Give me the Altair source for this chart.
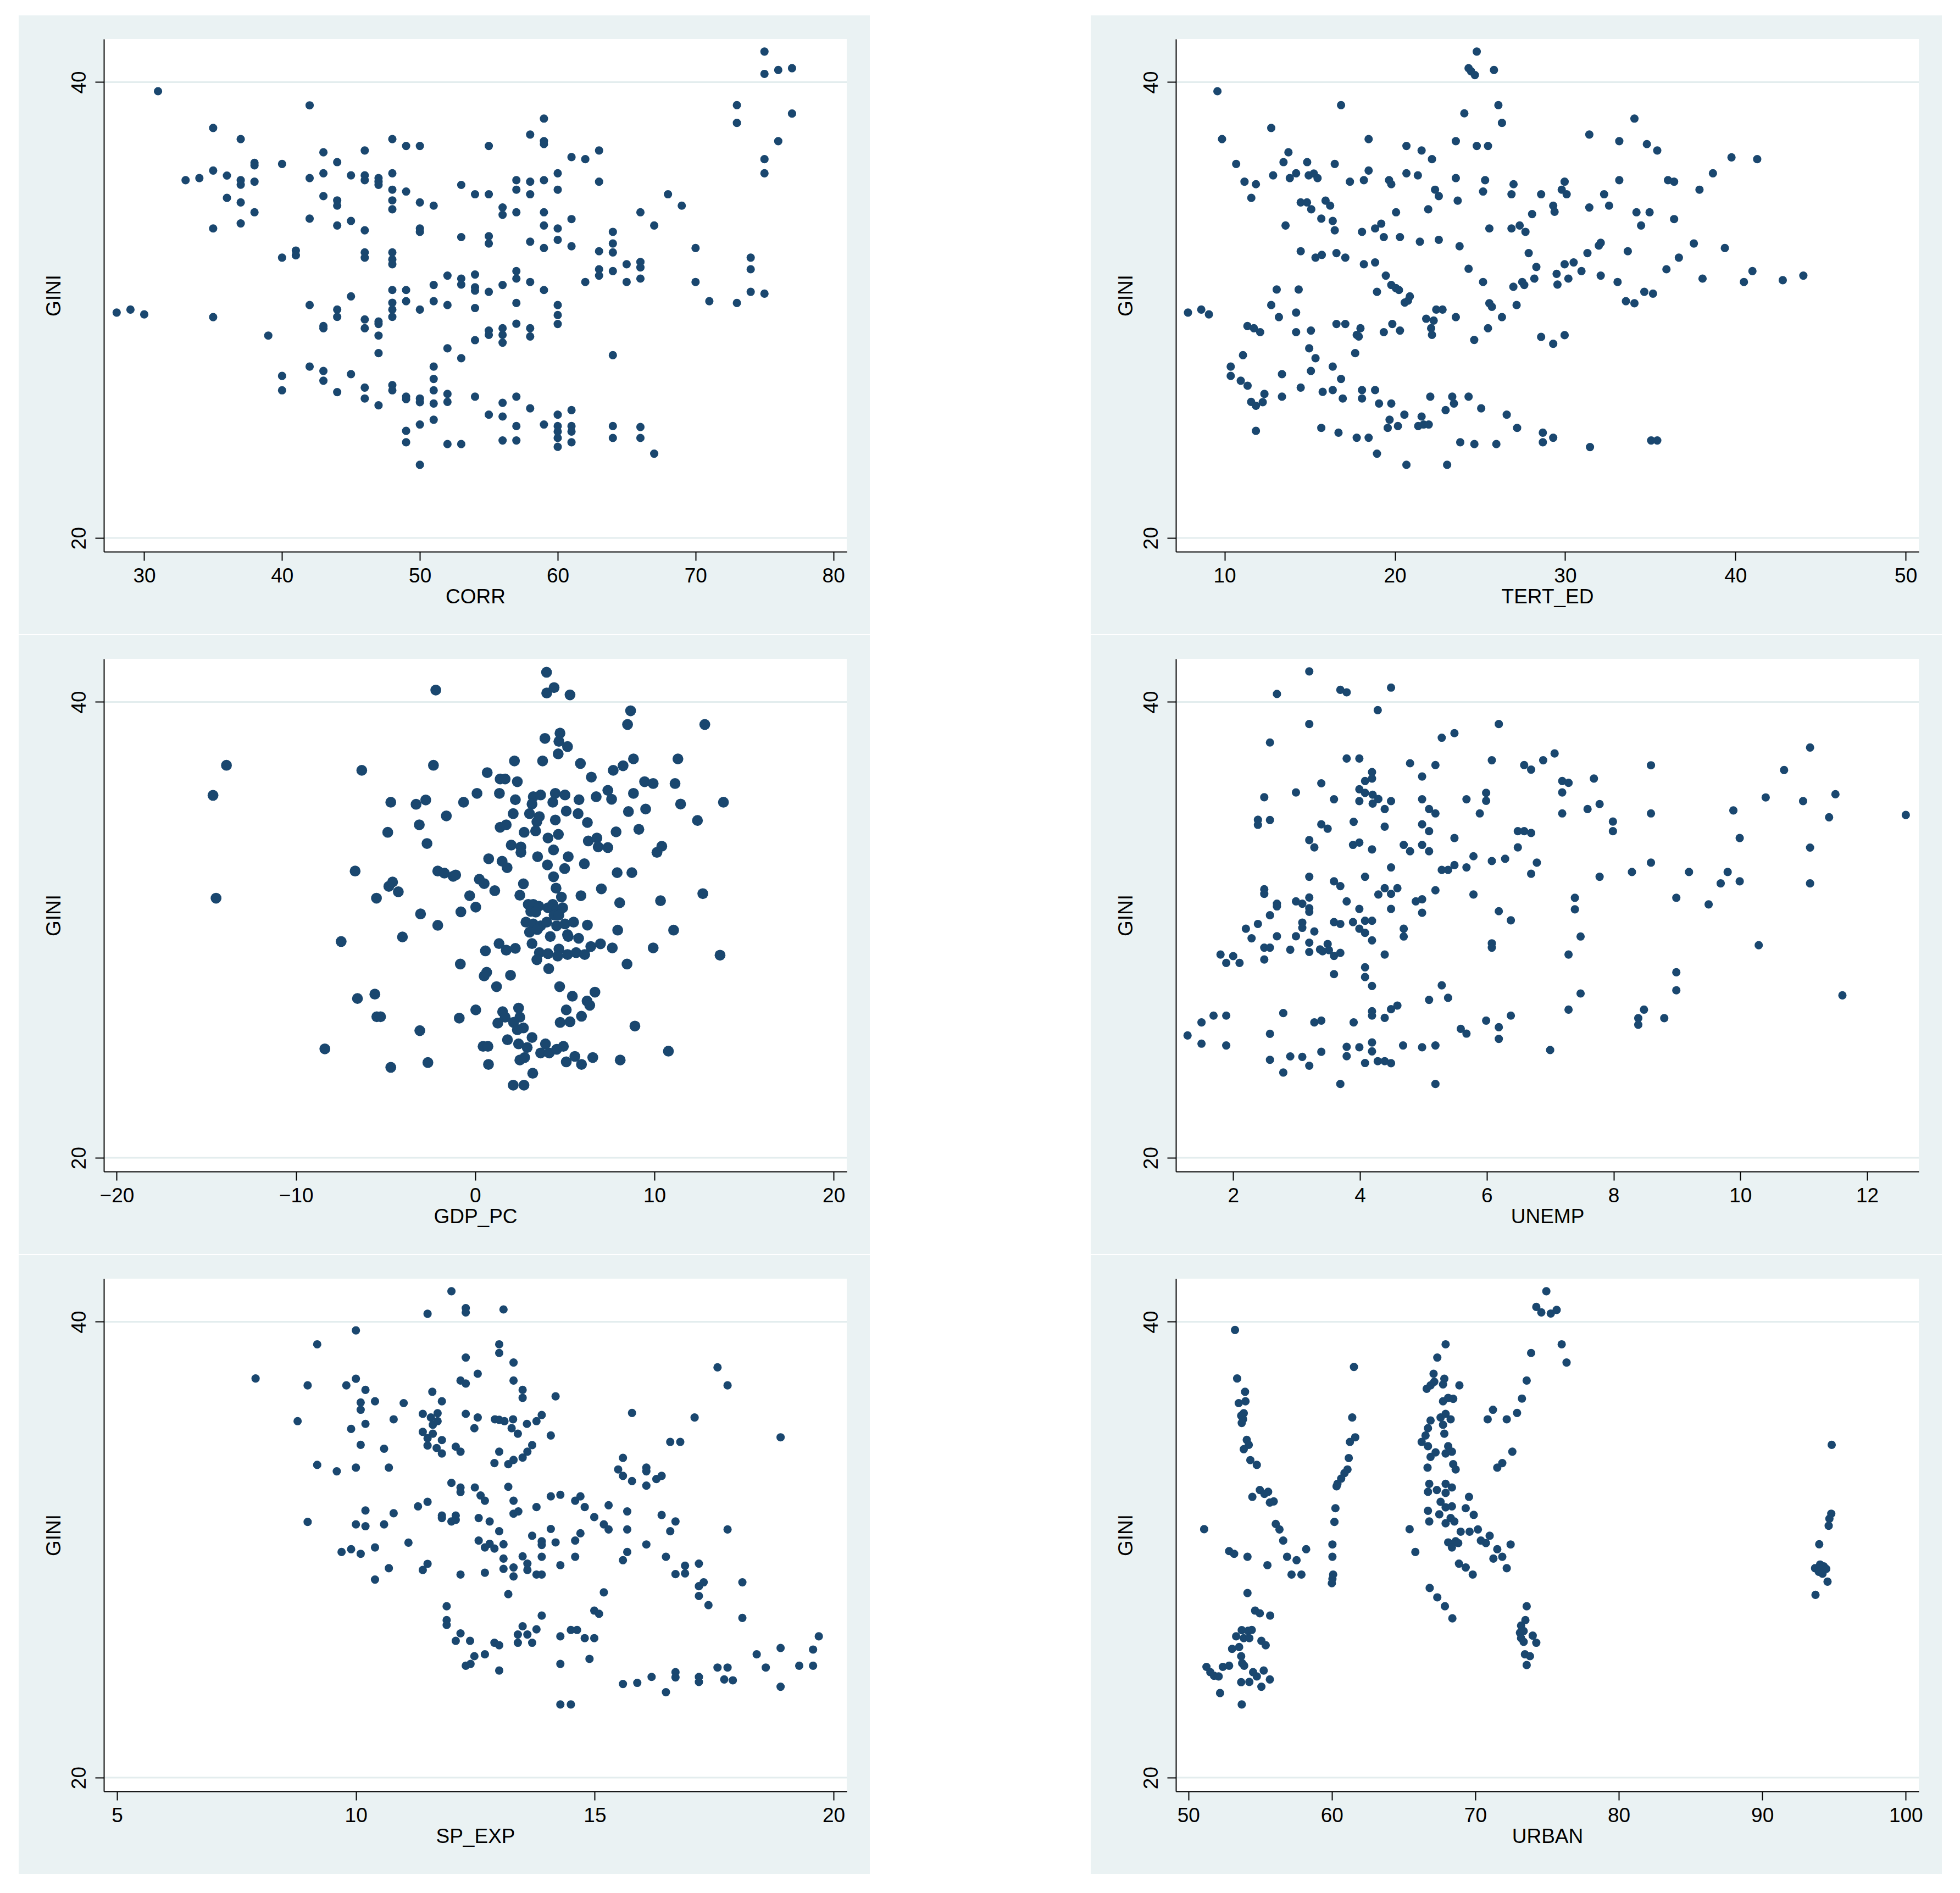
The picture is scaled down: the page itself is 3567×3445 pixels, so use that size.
import altair as alt
import pandas as pd

# ---------------- data ----------------
corr_points = [
    (31,39.60),(42,38.98),(35,37.99),(37,37.50),(43,36.92),(46,37.00),(44,36.49),(48,37.50),(49,37.20),(50,37.20),
    (38,36.46),(38,36.35),(40,36.41),(33,35.70),(34,35.79),(35,36.12),(36,35.90),(37,35.70),(37,35.50),(38,35.63),
    (36,34.92),(37,34.72),(38,34.29),(35,33.58),(37,33.80),(42,35.79),(43,36.00),(43,35.00),(44,34.81),(44,34.58),
    (45,35.91),(46,35.91),(46,35.70),(47,35.79),(47,35.63),(47,35.49),(48,36.00),(48,35.28),(48,34.81),(48,34.42),
    (49,35.20),(50,34.72),(51,34.58),(53,35.49),(54,35.08),(42,34.01),(44,33.71),(45,33.91),(46,33.50),(50,33.58),
    (50,33.43),(53,33.20),(40,32.30),(41,32.61),(41,32.40),(46,32.53),(46,32.30),(48,32.53),(48,32.22),(48,32.01),
    (52,31.51),(53,31.38),(53,31.12),(54,31.56),(54,31.00),(54,30.85),(51,31.10),(49,30.88),(49,30.39),(48,30.88),
    (45,30.60),(42,30.22),(51,30.39),(52,30.22),(54,30.09),(50,30.02),(48,30.32),(48,30.02),(48,29.70),(44,30.02),
    (44,29.70),(46,29.59),(46,29.20),(47,29.50),(47,29.39),(43,29.30),(43,29.20),(47,28.88),(39,28.88),(28,29.89),
    (29,30.02),(30,29.81),(35,29.69),(47,28.11),(52,28.32),(53,27.89),(54,28.68),(42,27.52),(43,27.33),(43,26.90),
    (40,27.11),(40,26.48),(45,27.19),(44,26.40),(46,26.60),(46,26.12),(47,25.82),(48,26.71),(48,26.48),(49,26.20),
    (49,26.09),(50,26.12),(50,25.96),(51,27.52),(51,26.98),(51,26.48),(51,25.90),(52,26.32),(52,25.97),(54,26.20),
    (51,25.19),(50,24.98),(49,24.70),(49,24.20),(52,24.12),(53,24.12),(50,23.21),
    (75,41.34),(75,40.36),(76,40.53),(77,40.61),(73,38.99),(73,38.21),(77,38.62),(76,37.41),(75,36.62),(75,36.00),
    (59,38.40),(58,37.70),(59,37.41),(59,37.28),(55,37.20),(61,36.71),(62,36.62),(63,37.00),(63,35.63),(60,36.00),
    (60,35.28),(59,35.70),(58,35.63),(58,35.08),(57,35.70),(57,35.28),(55,35.08),(56,34.50),(56,34.18),(57,34.29),
    (59,34.29),(59,33.71),(60,33.58),(60,33.08),(61,33.99),(61,32.80),(58,33.00),(59,32.72),(55,33.24),(55,32.92),
    (66,34.29),(68,35.08),(69,34.58),(67,33.71),(64,33.43),(64,32.92),(64,32.53),(63,32.58),(70,32.72),(74,32.30),
    (74,31.79),(65,32.01),(66,32.11),(66,31.87),(66,31.38),(63,31.79),(63,31.51),(64,31.71),(62,31.23),(65,31.23),
    (70,31.23),(57,31.71),(57,31.38),(56,31.10),(58,31.23),(59,30.88),(55,30.80),(74,30.80),(75,30.72),(71,30.39),
    (73,30.31),(57,30.31),(60,30.22),(60,29.78),(60,29.39),(57,29.40),(55,29.10),(55,28.91),(56,29.20),(56,28.91),
    (56,28.57),(58,29.20),(58,28.84),(64,28.02),(57,26.20),(56,25.93),(56,25.33),(55,25.41),(58,25.69),(61,25.61),
    (59,24.98),(60,25.41),(60,24.91),(60,24.67),(60,24.39),(60,24.00),(61,24.91),(61,24.67),(61,24.20),(57,24.91),
    (57,24.28),(56,24.28),(64,24.91),(64,24.39),(66,24.87),(66,24.39),(67,23.70),
]

tert_points = [
    (24.81,41.34),(24.33,40.61),(24.48,40.47),(24.70,40.31),(25.82,40.53),(9.58,39.60),(16.84,38.99),(26.08,38.99),
    (26.29,38.21),(24.08,38.63),(12.74,37.99),(9.85,37.50),(18.46,37.50),(23.58,37.41),(24.81,37.20),(25.47,37.20),
    (20.68,37.20),(21.57,37.00),(22.18,36.62),(10.68,36.41),(13.75,36.92),(13.46,36.49),(14.85,36.49),(16.47,36.41),
    (18.46,36.12),(20.68,36.00),(21.35,35.91),(12.85,35.91),(14.20,36.00),(13.83,35.79),(14.94,35.91),(15.24,35.99),
    (15.46,35.79),(11.17,35.63),(11.84,35.52),(11.57,34.92),(17.36,35.63),(18.18,35.70),(19.66,35.70),(19.79,35.52),
    (23.58,35.79),(25.30,35.70),(25.18,35.20),(22.36,35.28),(22.58,35.00),(23.69,34.80),(26.97,35.52),(26.85,35.08),
    (28.59,35.08),(14.47,34.72),(14.84,34.72),(15.09,34.42),(15.93,34.80),(16.20,34.58),(15.68,34.01),(16.35,33.91),
    (16.47,33.50),(13.58,33.71),(20.07,34.29),(21.96,34.42),(28.06,34.21),(29.30,34.58),(29.38,34.31),(18.07,33.43),
    (18.84,33.58),(19.20,33.79),(19.35,33.20),(20.30,33.20),(21.47,33.00),(22.58,33.08),(23.80,32.80),(25.55,33.58),
    (26.85,33.58),(27.33,33.71),(27.67,33.43),(14.47,32.58),(15.34,32.30),(15.71,32.42),(16.57,32.50),(17.09,32.30),
    (18.18,32.01),(18.84,32.09),(27.86,32.50),(28.31,31.89),(24.33,31.81),(28.19,31.38),(29.50,31.59),(29.55,31.12),
    (25.18,31.23),(26.96,31.02),(27.48,31.23),(27.60,31.10),(19.47,31.51),(19.79,31.10),(20.06,30.96),(20.24,30.88),
    (18.95,30.80),(20.88,30.60),(20.58,30.33),(20.77,30.41),(25.55,30.30),(25.70,30.14),(27.15,30.22),(26.29,29.69),
    (23.58,29.69),(25.47,29.20),(24.66,28.69),(28.59,28.82),(29.30,28.52),(13.06,30.90),(14.35,30.90),(12.74,30.22),
    (14.20,29.89),(13.19,29.69),(7.85,29.89),(8.63,30.02),(9.08,29.81),(11.34,29.30),(11.72,29.20),(12.09,29.03),
    (14.20,29.03),(15.07,29.10),(16.57,29.39),(17.09,29.39),(17.98,29.20),(17.76,28.91),(17.88,28.84),(19.35,29.03),
    (19.85,29.39),(20.30,29.10),(21.84,29.62),(22.28,29.54),(22.13,29.20),(22.18,28.91),(22.43,30.02),(22.80,30.02),
    (14.97,28.32),(15.34,27.89),(17.67,28.11),(11.08,28.02),(10.36,27.52),(10.36,27.11),(10.95,26.90),(11.35,26.68),
    (13.37,27.19),(15.07,27.33),(16.35,27.52),(16.84,26.98),(14.47,26.60),(12.34,26.32),(12.24,25.96),(11.56,25.97),
    (11.84,25.80),(13.37,26.20),(15.76,26.41),(16.35,26.49),(16.94,26.12),(18.07,26.49),(18.07,26.12),(18.84,26.49),
    (19.07,25.90),(19.79,25.90),(22.08,26.20),(23.37,26.20),(23.47,25.90),(24.33,26.20),(25.07,25.69),(22.98,25.61),
    (20.56,25.41),(21.57,25.33),(21.37,24.91),(21.69,24.98),(21.99,24.98),(19.69,25.19),(19.58,24.83),(20.18,24.91),
    (11.84,24.70),(15.68,24.83),(16.69,24.62),(17.76,24.40),(18.46,24.40),(18.95,23.70),(20.68,23.21),(23.07,23.21),
    (23.84,24.20),(24.67,24.12),(25.96,24.12),(26.57,25.41),(27.18,24.83),(28.69,24.62),(28.69,24.20),(29.30,24.40),
    (31.42,37.70),(34.07,38.40),(33.18,37.41),(34.80,37.28),(35.41,37.00),(39.77,36.70),(41.28,36.62),(38.68,36.00),
    (29.97,35.63),(29.80,35.28),(30.09,35.08),(33.18,35.70),(36.04,35.70),(36.40,35.63),(37.89,35.28),(32.29,35.08),
    (32.58,34.58),(31.42,34.50),(34.19,34.29),(34.96,34.29),(36.40,33.99),(34.46,33.71),(37.56,32.92),(39.38,32.72),
    (31.98,32.83),(32.09,32.95),(31.31,32.50),(33.68,32.58),(36.68,32.30),(29.97,32.01),(30.50,32.09),(30.96,31.71),
    (30.19,31.38),(32.09,31.51),(35.95,31.79),(38.07,31.38),(33.08,31.23),(40.50,31.23),(41.00,31.71),(42.78,31.31),
    (43.99,31.51),(34.65,30.80),(35.16,30.72),(33.57,30.39),(34.07,30.30),(29.97,28.90),(31.46,23.99),(35.05,24.28),
    (35.41,24.28),
]

gdp_points = [
    (-2.20,40.52),(-13.88,37.22),(-14.63,35.90),(-14.46,31.39),(-6.33,37.00),(-2.33,37.22),(-4.71,35.60),(-3.30,35.51),
    (-2.76,35.70),(-0.65,35.60),(-1.61,35.00),(-3.12,34.61),(-4.88,34.28),(-2.69,33.79),(-6.70,32.58),(-2.09,32.58),
    (-1.72,32.49),(-1.23,32.35),(-1.09,32.41),(-4.82,31.91),(-4.61,32.10),(-4.29,31.67),(-5.51,31.39),(-0.31,31.50),
    (-0.80,30.79),(-3.05,30.70),(-2.09,30.20),(-4.06,29.69),(-7.48,29.49),(-0.83,28.50),(-5.60,27.18),(-6.57,26.99),
    (-5.49,26.19),(-5.28,26.19),(-0.89,26.13),(-3.09,25.58),(-8.39,24.78),(-4.71,23.97),(-2.64,24.18),
    (3.98,41.30),(3.99,40.39),(4.40,40.63),(5.29,40.31),(8.67,39.61),(8.50,39.01),(12.81,39.01),(3.89,38.40),
    (4.73,38.63),(4.67,38.27),(5.15,38.04),(4.63,37.72),(2.19,37.41),(3.76,37.41),(5.87,37.30),(8.83,37.50),
    (8.25,37.20),(7.70,37.00),(11.31,37.50),(0.67,36.90),(1.39,36.62),(1.67,36.62),(2.35,36.50),(6.48,36.70),
    (0.10,35.99),(1.35,35.99),(2.24,35.71),(3.24,35.84),(3.65,35.92),(3.17,35.52),(3.03,35.10),(3.58,34.97),
    (4.47,35.99),(5.01,35.92),(4.33,35.60),(5.08,35.21),(5.79,35.71),(6.75,35.84),(7.40,36.12),(7.61,35.73),
    (9.45,36.50),(9.93,36.42),(11.15,36.42),(8.83,35.99),(11.46,35.52),(13.85,35.60),(8.55,35.19),(9.51,35.30),
    (5.74,35.10),(2.12,35.10),(1.39,34.50),(1.73,34.61),(2.73,34.28),(3.44,34.74),(3.37,34.34),(4.06,34.03),
    (4.47,34.82),(4.64,34.19),(6.26,34.71),(7.86,34.30),(9.13,34.41),(12.40,34.80),(6.31,33.90),(6.79,34.03),
    (6.86,33.64),(7.40,33.61),(2.01,33.72),(2.55,33.64),(2.55,33.40),(4.37,33.51),(10.41,33.67),(10.14,33.40),
    (0.75,33.12),(1.50,33.01),(1.78,32.73),(3.48,33.21),(4.03,32.85),(5.19,33.21),(4.99,32.69),(6.09,32.90),
    (7.92,32.51),(8.74,32.51),(0.23,32.22),(0.50,32.03),(1.09,31.72),(2.69,32.02),(2.49,31.52),(4.37,32.33),
    (4.51,31.83),(4.81,31.44),(5.90,31.50),(7.04,31.80),(8.06,31.19),(10.34,31.28),(12.70,31.59),(0.03,31.00),
    (2.96,31.12),(3.24,31.12),(3.55,31.04),(3.10,30.81),(3.38,30.78),(4.06,30.97),(4.33,31.12),(4.54,30.89),
    (4.88,30.97),(4.40,30.65),(4.67,30.65),(2.83,30.34),(3.24,30.26),(3.65,30.18),(3.99,30.34),(3.03,29.90),
    (3.47,30.02),(4.54,30.18),(5.01,30.26),(5.49,30.34),(5.15,29.79),(4.19,29.71),(5.77,29.63),(5.19,29.71),
    (6.26,30.21),(7.95,29.99),(11.07,29.99),(3.17,29.40),(1.33,29.40),(0.57,29.08),(1.73,29.11),(2.24,29.19),
    (3.58,29.00),(3.44,28.69),(4.06,28.96),(4.67,29.16),(4.60,28.85),(5.15,28.92),(5.63,29.00),(6.11,28.92),
    (6.45,29.27),(6.99,29.39),(7.65,29.21),(9.93,29.21),(13.66,28.89),(4.10,28.30),(8.47,28.50),(0.50,27.98),
    (0.64,28.14),(1.97,28.01),(1.19,27.51),(4.71,27.51),(5.42,27.09),(6.68,27.27),(6.24,26.88),(6.39,26.69),
    (5.08,26.49),(5.93,26.21),(0.03,26.49),(1.53,26.41),(1.26,25.91),(1.67,26.17),(2.42,26.57),(2.49,26.17),
    (2.14,25.94),(2.69,25.70),(2.35,25.62),(4.74,25.94),(5.29,25.97),(8.91,25.78),(0.44,24.89),(0.71,24.89),
    (1.80,25.18),(2.42,25.00),(2.90,24.84),(3.17,25.28),(3.92,25.00),(3.65,24.60),(4.13,24.60),(4.54,24.76),
    (4.92,24.89),(2.49,24.29),(2.76,24.40),(0.74,24.10),(5.08,24.21),(5.56,24.45),(5.93,24.10),(6.56,24.40),
    (8.09,24.29),(10.78,24.68),(3.21,23.71),(2.12,23.19),(2.72,23.19),
]

unemp_points = [
    (3.20,41.34),(2.69,40.35),(3.69,40.53),(3.79,40.42),(4.49,40.63),(4.28,39.64),(3.20,39.03),(2.58,38.22),
    (6.19,39.03),(5.29,38.43),(5.49,38.63),(3.79,37.52),(3.99,37.52),(4.79,37.31),(5.19,37.23),(6.08,37.44),
    (6.89,37.44),(7.07,37.74),(6.59,37.23),(6.70,37.03),(4.19,36.92),(4.19,36.64),(4.08,36.53),(4.98,36.73),
    (3.39,36.43),(2.99,36.03),(2.49,35.82),(3.99,36.17),(4.08,36.01),(4.20,35.93),(4.29,35.74),(3.99,35.65),
    (4.20,35.54),(3.59,35.73),(4.49,35.65),(4.39,35.30),(4.98,35.73),(5.09,35.30),(5.19,35.11),(5.68,35.73),
    (5.99,36.01),(5.99,35.66),(5.89,35.11),(2.39,34.83),(2.39,34.61),(2.58,34.82),(3.90,34.74),(3.39,34.63),
    (3.49,34.44),(4.39,34.53),(4.98,34.63),(5.09,34.33),(5.49,34.03),(6.49,34.33),(6.59,34.33),(6.70,34.25),
    (3.20,33.94),(3.28,33.62),(3.89,33.73),(3.99,33.83),(4.19,33.53),(4.69,33.73),(4.79,33.45),(4.98,33.73),
    (5.09,33.45),(6.49,33.62),(5.79,33.23),(6.29,33.12),(6.08,33.02),(6.79,32.95),(6.70,32.46),(5.29,32.63),
    (5.39,32.63),(5.49,32.84),(5.68,32.74),(4.49,32.74),(3.20,32.33),(4.08,32.33),(3.59,32.13),(3.69,31.92),
    (2.49,31.78),(2.49,31.58),(4.39,31.83),(4.29,31.55),(4.49,31.58),(4.59,31.83),(5.19,31.74),(5.79,31.55),
    (2.69,31.15),(2.69,31.03),(2.99,31.25),(3.09,31.15),(3.20,31.42),(3.20,30.95),(3.20,30.79),(3.79,31.25),
    (4.88,31.25),(4.98,31.34),(4.98,30.75),(3.99,30.92),(4.49,30.92),(2.58,30.64),(2.20,30.05),(2.39,30.26),
    (2.29,29.63),(2.69,29.72),(2.99,29.72),(3.09,30.32),(3.09,30.09),(3.28,29.93),(3.59,30.34),(3.69,30.26),
    (3.89,30.34),(3.99,30.05),(4.08,30.40),(4.19,30.40),(4.08,29.87),(4.19,29.54),(4.69,30.05),(4.69,29.71),
    (6.19,30.82),(6.38,30.42),(6.08,29.41),(6.08,29.22),(1.80,28.92),(2.00,28.85),(1.89,28.55),(2.10,28.55),
    (2.49,29.22),(2.58,29.22),(2.49,28.70),(2.90,29.13),(3.20,29.44),(3.20,29.03),(3.37,29.14),(3.49,29.38),
    (3.41,29.06),(3.51,29.11),(3.59,28.86),(3.69,28.99),(4.39,28.92),(3.59,28.06),(4.08,28.36),(4.08,27.93),
    (4.19,27.54),(5.29,27.57),(5.39,27.02),(5.09,26.93),(4.59,26.68),(4.49,26.52),(4.19,26.43),(4.19,26.24),
    (4.39,26.14),(2.79,26.35),(1.69,26.24),(1.89,26.24),(1.50,25.94),(1.28,25.37),(1.50,25.01),(1.89,24.93),
    (2.58,25.44),(3.28,25.94),(3.39,26.02),(3.90,25.94),(5.99,26.02),(6.38,26.24),(6.19,25.73),(6.19,25.22),
    (5.59,25.66),(5.68,25.45),(4.68,24.93),(4.98,24.85),(5.19,24.93),(4.19,25.06),(4.19,24.67),(3.79,24.87),
    (3.79,24.46),(3.99,24.85),(3.39,24.65),(2.90,24.45),(3.09,24.43),(3.20,24.04),(2.58,24.30),(2.79,23.74),
    (4.08,24.16),(4.28,24.24),(4.39,24.24),(4.49,24.15),(3.69,23.24),(5.19,23.24),(7.00,24.73),
    (8.59,37.22),(11.10,38.00),(10.69,37.01),(7.19,36.53),(7.29,36.45),(7.19,36.03),(7.69,36.64),(7.19,35.11),
    (7.59,35.30),(7.78,35.52),(8.59,35.11),(7.99,34.75),(7.99,34.33),(10.40,35.81),(10.99,35.65),(11.50,35.95),
    (11.40,34.94),(12.61,35.04),(9.89,35.24),(9.99,34.03),(11.10,33.61),(8.59,32.95),(8.29,32.54),(7.78,32.33),
    (9.19,32.54),(9.80,32.54),(9.69,32.04),(9.99,32.13),(11.10,32.04),(7.39,31.41),(7.39,30.90),(8.99,31.41),
    (9.50,31.12),(7.48,29.71),(7.29,28.92),(10.29,29.33),(8.99,28.14),(8.99,27.35),(7.48,27.21),(11.61,27.13),
    (7.29,26.50),(8.48,26.50),(8.39,26.13),(8.39,25.84),(8.80,26.13),
]

spexp_points = [
    (12.00,41.34),(11.50,40.35),(12.30,40.60),(12.30,40.41),(10.00,39.62),(9.19,39.01),(12.30,38.43),(7.90,37.51),
    (8.99,37.21),(9.80,37.21),(10.00,37.50),(10.20,37.01),(10.10,36.46),(10.10,36.14),(10.40,36.51),(11.00,36.43),
    (11.60,36.93),(11.80,36.51),(12.19,37.42),(12.30,37.29),(12.55,37.72),(8.78,35.64),(9.90,35.30),(10.20,35.52),
    (10.79,35.72),(11.40,35.96),(11.57,35.80),(11.71,35.99),(11.61,35.48),(11.71,35.64),(12.30,35.96),(12.55,35.80),
    (12.48,35.33),(11.40,35.17),(11.50,34.89),(11.61,35.09),(11.50,34.57),(11.80,34.81),(11.69,34.46),(11.80,34.22),
    (12.09,34.52),(12.19,34.30),(10.10,34.60),(10.59,34.43),(9.19,33.72),(9.60,33.44),(10.00,33.60),(10.69,33.60),
    (12.00,32.93),(12.19,32.73),(12.19,32.53),(12.49,32.73),(11.50,32.10),(11.30,31.90),(10.20,31.72),(10.79,31.60),
    (11.80,31.50),(11.80,31.39),(12.00,31.24),(12.09,31.50),(12.09,31.31),(12.57,31.39),(8.99,31.22),(10.00,31.11),
    (10.20,31.03),(10.59,31.11),(11.10,30.31),(12.57,30.40),(9.70,29.90),(9.90,30.02),(10.10,29.82),(10.40,30.10),
    (10.69,29.19),(11.40,29.11),(11.50,29.38),(10.40,28.69),(12.19,28.91),(11.90,27.52),(11.90,26.91),(11.90,26.70),
    (12.19,26.33),(12.09,26.00),(12.39,26.00),(12.48,25.33),(12.30,24.91),(12.40,24.99),
    (13.09,40.54),(13.00,39.01),(13.00,38.63),(13.30,38.21),(13.30,37.42),(13.49,37.01),(13.49,36.66),(14.18,36.73),
    (17.57,38.00),(17.78,37.21),(15.78,36.00),(17.09,35.80),(18.89,34.93),(12.91,35.72),(13.00,35.70),(13.11,35.64),
    (13.29,35.72),(13.26,35.33),(13.39,35.09),(13.58,35.52),(13.78,35.64),(13.89,35.91),(14.08,35.01),(16.58,34.73),
    (16.79,34.73),(13.00,34.30),(12.90,33.80),(13.19,33.75),(13.30,33.94),(13.49,34.04),(13.59,34.30),(13.69,34.59),
    (15.59,34.03),(15.49,33.52),(15.59,33.24),(15.78,33.01),(16.08,33.60),(16.08,33.44),(16.08,32.81),(16.29,33.10),
    (16.40,33.24),(13.19,32.76),(12.61,32.38),(12.70,32.15),(13.30,32.15),(13.30,31.58),(13.40,31.68),(13.78,31.87),
    (14.08,32.34),(14.28,32.41),(14.59,32.15),(14.70,32.34),(14.79,31.87),(15.29,31.95),(15.68,31.68),(12.80,31.24),
    (14.99,31.43),(15.19,31.11),(15.29,30.89),(15.68,30.89),(16.40,31.52),(16.69,31.24),(16.58,30.81),(17.78,30.89),
    (13.00,30.81),(12.70,30.10),(12.80,30.26),(12.90,30.05),(13.09,30.24),(13.69,30.61),(13.89,30.37),(13.89,30.21),
    (14.08,30.91),(14.18,30.32),(14.59,30.40),(14.70,30.72),(16.08,30.23),(13.09,29.61),(13.09,29.16),(13.30,29.22),
    (13.30,28.83),(13.49,29.71),(13.59,29.39),(13.59,29.11),(13.78,28.91),(13.89,28.91),(13.89,29.69),(14.28,29.32),
    (14.59,29.69),(12.70,28.99),(15.59,29.54),(15.68,29.90),(16.49,29.69),(16.69,28.93),(16.89,29.30),(16.89,28.96),
    (17.18,29.39),(17.18,28.40),(17.28,28.57),(17.18,27.97),(17.38,27.57),(18.09,28.57),(18.09,27.01),(13.19,28.05),
    (15.19,28.13),(14.99,27.33),(15.09,27.19),(13.89,27.11),(13.49,26.64),(13.39,26.28),(13.39,25.92),(13.59,26.28),
    (13.69,25.92),(13.78,26.51),(12.90,25.92),(13.00,25.81),(12.70,25.41),(13.00,24.70),(14.28,26.20),(14.50,26.48),
    (14.63,26.48),(14.79,26.12),(14.99,26.12),(14.89,25.21),(14.28,24.99),(14.28,23.21),(14.50,23.21),(15.59,24.11),
    (15.89,24.16),(16.19,24.42),(16.69,24.63),(16.69,24.40),(16.49,23.75),(17.18,24.42),(17.18,24.20),(17.57,24.83),
    (17.78,24.83),(17.71,24.31),(17.89,24.27),(18.39,25.41),(18.58,24.83),(18.89,25.69),(18.89,23.99),(19.28,24.91),
    (19.57,25.62),(19.57,24.91),(19.69,26.20),
]

urban_points = [
    (74.95,41.34),(74.25,40.65),(74.60,40.41),(75.26,40.36),(73.89,38.63),(73.58,37.42),(73.25,36.63),(72.91,36.00),
    (71.23,36.14),(70.86,35.72),(72.19,35.72),(72.58,34.30),(71.53,33.60),(71.88,33.80),(53.25,39.64),(53.40,37.51),
    (53.95,36.93),(53.51,36.43),(53.98,36.51),(53.86,35.99),(53.81,35.72),(53.72,35.56),(53.68,35.88),(54.07,34.82),
    (54.21,34.60),(53.86,34.41),(54.32,33.93),(54.77,33.72),(54.46,32.32),(54.98,32.62),(55.30,32.45),(55.56,32.54),
    (55.68,32.07),(55.95,32.12),(56.09,31.13),(56.35,30.89),(56.61,30.40),(56.88,29.69),(57.54,29.54),(57.19,28.91),
    (57.88,28.91),(58.21,30.02),(51.10,30.90),(52.84,29.94),(53.19,29.82),(54.12,29.69),(55.51,29.32),(54.12,28.10),
    (54.65,27.33),(54.98,27.21),(55.70,27.11),(53.33,26.20),(53.72,26.47),(54.16,26.44),(54.42,26.48),(53.86,26.12),
    (54.25,26.12),(55.09,26.00),(55.39,25.81),(53.05,25.65),(53.54,25.73),(53.68,25.33),(53.75,25.02),(53.89,24.91),
    (51.26,24.86),(51.53,24.63),(51.79,24.47),(52.11,24.44),(52.40,24.86),(52.84,24.91),(53.68,24.19),(54.25,24.20),
    (54.51,24.63),(54.77,24.44),(55.25,24.70),(55.09,23.99),(55.68,24.31),(52.21,23.71),(53.72,23.21),(61.54,38.02),
    (61.42,35.80),(61.63,34.93),(61.26,34.73),(61.18,34.02),(61.09,33.52),(60.88,33.36),(60.65,33.12),(60.39,32.89),
    (60.33,32.78),(60.25,31.82),(60.18,31.22),(60.04,30.23),(60.04,29.69),(60.09,28.91),(60.04,28.72),(60.00,28.53),
    (67.93,39.01),(67.35,38.43),(67.09,37.72),(66.61,37.06),(66.88,37.21),(67.14,37.37),(67.84,37.50),(67.75,37.25),
    (68.89,37.21),(67.75,36.51),(68.11,36.66),(68.46,36.62),(66.88,35.67),(66.70,35.33),(66.53,35.01),(67.58,35.80),
    (67.93,35.96),(68.28,35.72),(67.75,35.48),(67.84,35.09),(66.26,34.73),(66.70,34.54),(66.88,34.07),(67.23,34.27),
    (68.11,34.54),(67.93,34.22),(68.37,34.30),(68.46,33.75),(68.63,33.52),(66.67,33.60),(66.79,32.89),(66.70,32.54),
    (67.32,32.62),(67.93,32.89),(68.37,32.73),(67.93,32.49),(69.56,32.32),(69.33,31.82),(69.89,31.53),(67.58,32.10),
    (67.93,31.86),(68.37,31.90),(67.49,31.55),(66.70,31.71),(66.79,31.24),(67.93,31.16),(68.28,31.39),(68.54,31.24),
    (65.42,30.90),(65.82,29.90),(68.98,30.79),(69.60,30.79),(70.18,30.89),(68.11,30.32),(68.63,30.37),(68.81,30.29),
    (68.37,30.10),(70.39,30.40),(70.74,30.29),(71.00,30.61),(71.53,30.02),(71.26,29.61),(71.88,29.69),(72.46,30.23),
    (72.19,29.19),(68.86,29.39),(69.33,29.22),(69.82,28.91),(66.82,28.32),(67.35,27.91),(67.88,27.52),(68.40,26.99),
    (73.58,27.52),(73.49,26.91),(73.19,26.67),(73.11,26.36),(73.19,26.12),(73.37,25.96),(73.37,26.43),(74.00,26.23),
    (74.25,25.92),(73.46,25.41),(73.81,25.33),(73.58,24.94),
    (75.67,40.52),(76.02,39.01),(76.36,38.21),(94.84,34.60),(94.81,31.58),(94.68,31.36),(94.63,31.05),(93.97,30.24),
    (93.68,29.19),(94.03,29.35),(94.29,29.27),(94.46,29.16),(93.94,29.03),(94.20,28.95),(94.55,28.60),(93.71,28.02),
]

gini_ticks = [20, 40]
corr_ticks = [30, 40, 50, 60, 70, 80]
tert_ticks = [10, 20, 30, 40, 50]
gdp_ticks = [-20, -10, 0, 10, 20]
unemp_ticks = [2, 4, 6, 8, 10, 12]
spexp_ticks = [5, 10, 15, 20]
urban_ticks = [50, 60, 70, 80, 90, 100]

# ---------------- styling ----------------
FONT = "Liberation Sans"
NAVY = "#1a476f"
BG = "#eaf2f3"
GRID = "#e3edee"
W, H = 1352, 933
PAD_L, PAD_R, PAD_T, PAD_B = 155, 42, 43, 150
Y_DOM = [19.4, 41.89]
FS = 37

COMMON = dict(domainColor="black", domainWidth=2, tickColor="black", tickWidth=2,
              tickSize=16, labelFont=FONT, labelFontSize=FS, labelColor="black",
              titleFont=FONT, titleFontSize=FS, titleFontWeight="normal",
              titleColor="black", grid=False, zindex=1, labelOverlap=False)


def y_axis():
    return alt.Axis(values=gini_ticks, title="GINI", labelAngle=270,
                    labelAlign="center", labelBaseline="bottom",
                    labelPadding=10, titlePadding=8, **COMMON)


def panel(points, xname, xdom, xticks, dot):
    df = pd.DataFrame(points, columns=[xname, "GINI"])
    one = pd.DataFrame({"k": [0]})
    xs = alt.Scale(domain=xdom, nice=False, zero=False)
    ys = alt.Scale(domain=Y_DOM, nice=False, zero=False)
    bg = alt.Chart(one).mark_rect(fill=BG, clip=False).encode(
        x=alt.value(-PAD_L), x2=alt.value(W + PAD_R),
        y=alt.value(-PAD_T), y2=alt.value(H + PAD_B))
    white = alt.Chart(one).mark_rect(fill="white").encode(
        x=alt.value(0), x2=alt.value(W), y=alt.value(0), y2=alt.value(H))
    grid = alt.Chart(pd.DataFrame({"GINI": gini_ticks})).mark_rule(
        color=GRID, strokeWidth=3).encode(y=alt.Y("GINI:Q", scale=ys, axis=y_axis()))
    pts = alt.Chart(df).mark_circle(size=dot, color=NAVY, opacity=1).encode(
        x=alt.X(f"{xname}:Q", scale=xs,
                axis=alt.Axis(values=xticks, title=xname, labelPadding=10,
                              titlePadding=2, labelFlush=False, labelAngle=0, **COMMON)),
        y=alt.Y("GINI:Q", scale=ys, axis=y_axis()))
    return alt.layer(bg, white, grid, pts).properties(width=W, height=H)


p1 = panel(corr_points, "CORR", [27.07, 80.97], corr_ticks, 230)
p2 = panel(tert_points, "TERT_ED", [7.14, 50.77], tert_ticks, 230)
p3 = panel(gdp_points, "GDP_PC", [-20.72, 20.73], gdp_ticks, 390)
p4 = panel(unemp_points, "UNEMP", [1.096, 12.815], unemp_ticks, 230)
p5 = panel(spexp_points, "SP_EXP", [4.724, 20.275], spexp_ticks, 230)
p6 = panel(urban_points, "URBAN", [49.13, 100.91], urban_ticks, 230)

SP = 400
row1 = alt.hconcat(p1, p2, spacing=SP)
row2 = alt.hconcat(p3, p4, spacing=SP)
row3 = alt.hconcat(p5, p6, spacing=SP)

chart = alt.vconcat(row1, row2, row3, spacing=0).properties(
    background="white",
    padding={"left": 25, "top": 19, "right": 10, "bottom": 10},
).configure_view(stroke="transparent")

chart.save("out.html", embed_options={"renderer": "svg", "actions": False})
